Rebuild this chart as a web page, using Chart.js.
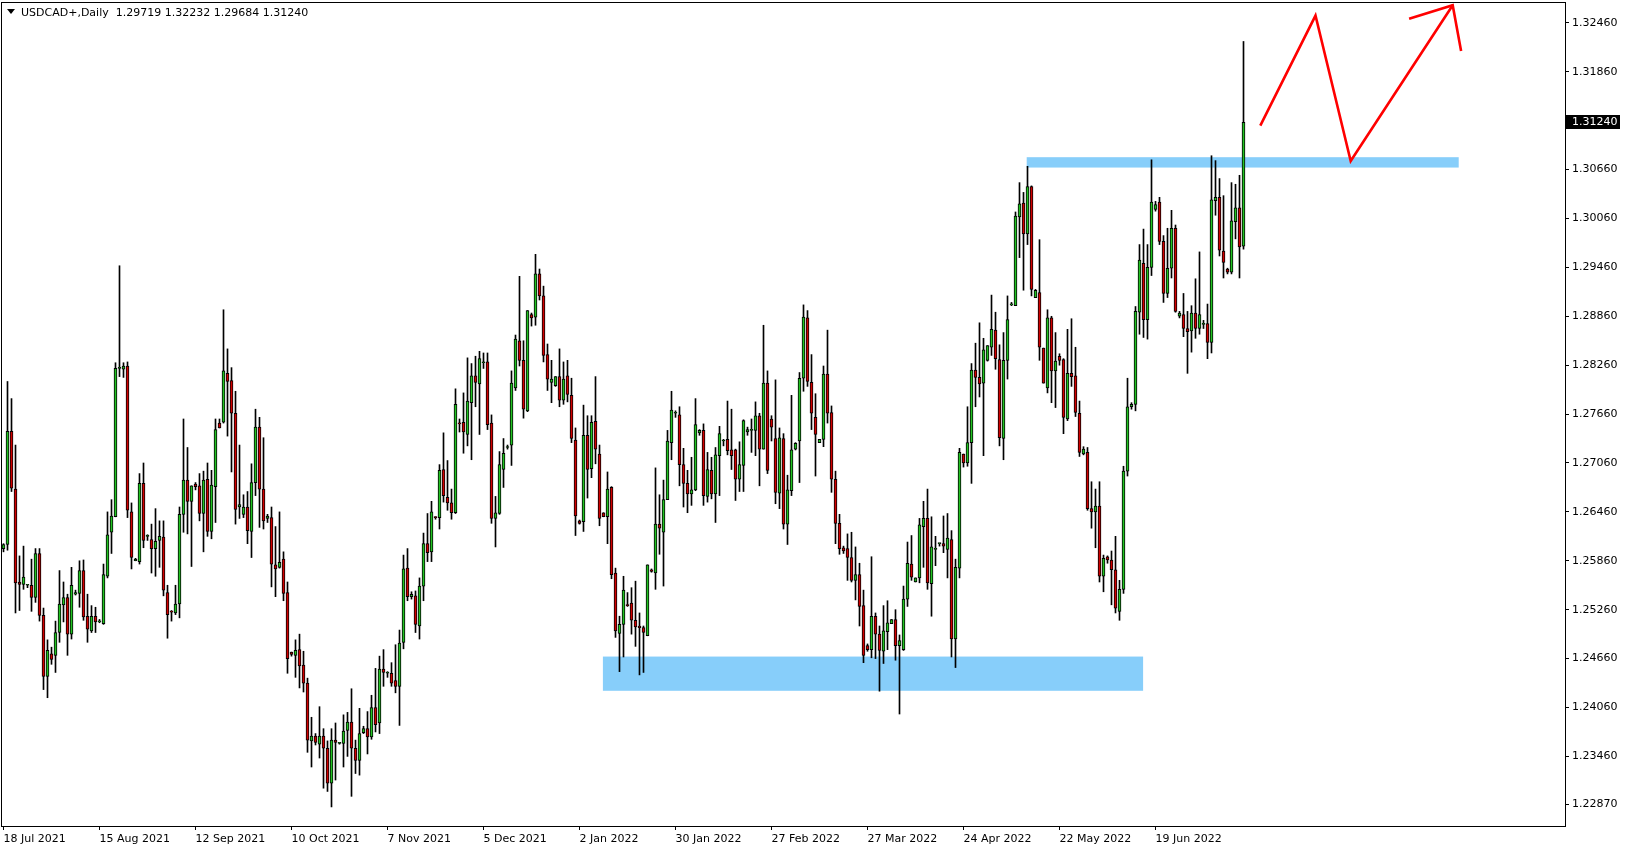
<!DOCTYPE html>
<html>
<head>
<meta charset="utf-8">
<style>
  html, body { margin: 0; padding: 0; background: #fff; }
  canvas { display: block; }
</style>
<script src="https://cdn.jsdelivr.net/npm/chart.js@4.4.1/dist/chart.umd.min.js"></script>
</head>
<body>
<canvas id="chart" width="1629" height="850"></canvas>
<script>
const symbolName = "USDCAD+";
const timeframe = "Daily";

// daily bars, one per index (broker has small sunday bars)
const opens = [
  1.2601,1.2606,1.2745,1.2674,1.2560,1.2557,1.2556,1.2556,1.2541,1.2595,
  1.2519,1.2444,1.2472,1.2470,1.2498,1.2532,1.2541,1.2496,1.2545,1.2546,
  1.2574,1.2518,1.2500,1.2518,1.2511,1.2509,1.2567,1.2621,1.2640,1.2822,
  1.2821,1.2825,1.2646,1.2586,1.2585,1.2681,1.2616,1.2612,1.2601,1.2611,
  1.2615,1.2547,1.2524,1.2522,1.2533,1.2643,1.2685,1.2659,1.2680,1.2678,
  1.2644,1.2686,1.2622,1.2677,1.2755,1.2756,1.2816,1.2807,1.2767,1.2652,
  1.2643,1.2652,1.2622,1.2682,1.2750,1.2674,1.2638,1.2639,1.2581,1.2578,
  1.2588,1.2547,1.2474,1.2470,1.2477,1.2458,1.2436,1.2365,1.2371,1.2361,
  1.2371,1.2356,1.2313,1.2366,1.2362,1.2362,1.2378,1.2388,1.2356,1.2341,
  1.2375,1.2380,1.2370,1.2406,1.2387,1.2453,1.2448,1.2448,1.2439,1.2432,
  1.2486,1.2577,1.2542,1.2543,1.2506,1.2555,1.2607,1.2597,1.2640,1.2639,
  1.2698,1.2664,1.2657,1.2645,1.2755,1.2756,1.2741,1.2780,1.2813,1.2803,
  1.2829,1.2830,1.2755,1.2638,1.2644,1.2698,1.2725,1.2728,1.2798,1.2856,
  1.2832,1.2770,1.2888,1.2885,1.2938,1.2911,1.2839,1.2805,1.2801,1.2812,
  1.2783,1.2813,1.2789,1.2734,1.2635,1.2634,1.2740,1.2699,1.2757,1.2717,
  1.2645,1.2640,1.2676,1.2571,1.2497,1.2508,1.2532,1.2534,1.2513,1.2506,
  1.2504,1.2494,1.2575,1.2571,1.2631,1.2621,1.2661,1.2731,1.2767,1.2765,
  1.2704,1.2681,1.2668,1.2673,1.2743,1.2746,1.2665,1.2697,1.2668,1.2715,
  1.2733,1.2735,1.2722,1.2722,1.2686,1.2703,1.2744,1.2746,1.2746,1.2764,
  1.2723,1.2804,1.2760,1.2736,1.2669,1.2736,1.2631,1.2672,1.2723,1.2733,
  1.2810,1.2884,1.2805,1.2762,1.2731,1.2735,1.2815,1.2768,1.2686,1.2632,
  1.2602,1.2601,1.2590,1.2562,1.2569,1.2531,1.2482,1.2477,1.2518,1.2496,
  1.2475,1.2499,1.2509,1.2514,1.2482,1.2477,1.2539,1.2582,1.2560,1.2565,
  1.2628,1.2638,1.2558,1.2600,1.2607,1.2607,1.2600,1.2612,1.2490,1.2577,
  1.2717,1.2706,1.2731,1.2820,1.2811,1.2804,1.2832,1.2848,1.2869,1.2833,
  1.2736,1.2832,1.2900,1.2899,1.3008,1.3025,1.2987,1.3045,1.2909,1.2915,
  1.2847,1.2798,1.2884,1.2819,1.2837,1.2833,1.2760,1.2816,1.2813,1.2767,
  1.2717,1.2719,1.2650,1.2646,1.2653,1.2567,1.2591,1.2587,1.2575,1.2524,
  1.2551,1.2696,1.2775,1.2778,1.2891,1.2951,1.2882,1.2946,1.3017,1.3026,
  1.2978,1.2914,1.2945,1.2994,1.2886,1.2888,1.2871,1.2868,1.2890,1.2871,
  1.2876,1.2877,1.2854,1.3028,1.3032,1.2966,1.2944,1.2940,1.3002,1.3019,1.29719
];
const highs = [
  1.2607,1.2806,1.2785,1.2728,1.2592,1.2604,1.2557,1.2588,1.2601,1.2601,
  1.2528,1.2489,1.2480,1.2512,1.2574,1.2560,1.2545,1.2578,1.2550,1.2586,
  1.2587,1.2545,1.2531,1.2529,1.2514,1.2582,1.2646,1.2661,1.2829,1.2948,
  1.2829,1.2830,1.2657,1.2589,1.2693,1.2706,1.2618,1.2631,1.2650,1.2635,
  1.2635,1.2556,1.2525,1.2556,1.2652,1.2760,1.2725,1.2678,1.2682,1.2693,
  1.2696,1.2706,1.2697,1.2760,1.2760,1.2894,1.2846,1.2823,1.2794,1.2728,
  1.2667,1.2671,1.2705,1.2772,1.2762,1.2737,1.2643,1.2652,1.2628,1.2646,
  1.2597,1.2560,1.2474,1.2489,1.2496,1.2475,1.2442,1.2394,1.2374,1.2407,
  1.2380,1.2365,1.2380,1.2387,1.2363,1.2397,1.2400,1.2429,1.2366,1.2405,
  1.2383,1.2401,1.2421,1.2454,1.2469,1.2477,1.2450,1.2461,1.2483,1.2501,
  1.2593,1.2601,1.2548,1.2549,1.2565,1.2620,1.2644,1.2659,1.2640,1.2704,
  1.2743,1.2709,1.2674,1.2797,1.2760,1.2792,1.2835,1.2828,1.2837,1.2843,
  1.2841,1.2841,1.2765,1.2665,1.2720,1.2736,1.2728,1.2819,1.2863,1.2935,
  1.2856,1.2893,1.2890,1.2962,1.2944,1.2923,1.2852,1.2832,1.2812,1.2846,
  1.2830,1.2832,1.2810,1.2749,1.2636,1.2777,1.2764,1.2764,1.2812,1.2728,
  1.2645,1.2695,1.2677,1.2577,1.2518,1.2567,1.2547,1.2553,1.2561,1.2522,
  1.2506,1.2581,1.2576,1.2700,1.2667,1.2685,1.2746,1.2794,1.2770,1.2775,
  1.2724,1.2697,1.2713,1.2785,1.2747,1.2754,1.2719,1.2713,1.2725,1.2751,
  1.2735,1.2782,1.2772,1.2723,1.2732,1.2759,1.2750,1.2760,1.2781,1.2767,
  1.2875,1.2819,1.2764,1.2808,1.2749,1.2742,1.2691,1.2789,1.2731,1.2817,
  1.2900,1.2893,1.2839,1.2791,1.2735,1.2825,1.2869,1.2776,1.2696,1.2643,
  1.2604,1.2619,1.2621,1.2603,1.2583,1.2550,1.2484,1.2591,1.2522,1.2506,
  1.2531,1.2537,1.2514,1.2526,1.2495,1.2555,1.2609,1.2617,1.2565,1.2638,
  1.2659,1.2674,1.2640,1.2616,1.2607,1.2641,1.2644,1.2623,1.2588,1.2724,
  1.2717,1.2775,1.2828,1.2853,1.2878,1.2859,1.2850,1.2912,1.2891,1.2851,
  1.2866,1.2911,1.2903,1.3014,1.3050,1.3038,1.3070,1.3046,1.2919,1.2980,
  1.2847,1.2894,1.2886,1.2866,1.2840,1.2834,1.2870,1.2883,1.2848,1.2782,
  1.2726,1.2725,1.2683,1.2674,1.2683,1.2593,1.2592,1.2598,1.2616,1.2562,
  1.2702,1.2810,1.2780,1.2898,1.2974,1.2993,1.2974,1.3078,1.3027,1.3032,
  1.2985,1.2994,1.3016,1.2998,1.2892,1.2914,1.2892,1.2899,1.2932,1.2965,
  1.2881,1.2901,1.3083,1.3077,1.3055,1.3034,1.2945,1.3050,1.3048,1.3059,1.32232
];
const lows = [
  1.2597,1.2599,1.2671,1.2522,1.2525,1.2551,1.2553,1.2524,1.2535,1.2512,
  1.2428,1.2418,1.2459,1.2449,1.2486,1.2511,1.2470,1.2490,1.2544,1.2529,
  1.2513,1.2486,1.2498,1.2498,1.2510,1.2508,1.2565,1.2595,1.2640,1.2812,
  1.2811,1.2639,1.2576,1.2586,1.2582,1.2602,1.2611,1.2571,1.2567,1.2578,
  1.2543,1.2491,1.2512,1.2520,1.2516,1.2621,1.2619,1.2579,1.2673,1.2635,
  1.2597,1.2616,1.2613,1.2633,1.2749,1.2755,1.2739,1.2695,1.2631,1.2638,
  1.2639,1.2607,1.2590,1.2666,1.2627,1.2625,1.2633,1.2554,1.2542,1.2577,
  1.2537,1.2448,1.2469,1.2443,1.2430,1.2425,1.2351,1.2333,1.2360,1.2344,
  1.2307,1.2303,1.2284,1.2317,1.2361,1.2333,1.2346,1.2297,1.2325,1.2323,
  1.2374,1.2349,1.2367,1.2376,1.2374,1.2432,1.2443,1.2432,1.2424,1.2384,
  1.2478,1.2537,1.2539,1.2498,1.2490,1.2537,1.2585,1.2585,1.2637,1.2625,
  1.2658,1.2648,1.2637,1.2644,1.2744,1.2718,1.2727,1.2710,1.2775,1.2741,
  1.2822,1.2747,1.2632,1.2603,1.2643,1.2676,1.2723,1.2703,1.2795,1.2825,
  1.2761,1.2769,1.2874,1.2875,1.2906,1.2830,1.2795,1.2780,1.2800,1.2775,
  1.2778,1.2781,1.2731,1.2617,1.2631,1.2622,1.2663,1.2688,1.2705,1.2629,
  1.2640,1.2607,1.2564,1.2492,1.2450,1.2468,1.2530,1.2496,1.2481,1.2446,
  1.2449,1.2494,1.2572,1.2551,1.2594,1.2555,1.2661,1.2710,1.2762,1.2678,
  1.2652,1.2645,1.2654,1.2672,1.2740,1.2654,1.2658,1.2662,1.2633,1.2666,
  1.2727,1.2716,1.2698,1.2660,1.2671,1.2671,1.2740,1.2719,1.2715,1.2678,
  1.2723,1.2693,1.2733,1.2656,1.2650,1.2625,1.2606,1.2666,1.2722,1.2682,
  1.2794,1.2800,1.2747,1.2690,1.2731,1.2726,1.2755,1.2670,1.2607,1.2594,
  1.2595,1.2562,1.2560,1.2538,1.2506,1.2461,1.2475,1.2467,1.2466,1.2426,
  1.2460,1.2477,1.2509,1.2464,1.2398,1.2476,1.2530,1.2562,1.2560,1.2559,
  1.2578,1.2551,1.2518,1.2580,1.2604,1.2596,1.2565,1.2468,1.2455,1.2565,
  1.2701,1.2702,1.2681,1.2775,1.2787,1.2715,1.2831,1.2838,1.2821,1.2727,
  1.2710,1.2809,1.2899,1.2899,1.2958,1.2918,1.2974,1.2911,1.2909,1.2832,
  1.2804,1.2792,1.2780,1.2774,1.2826,1.2742,1.2758,1.2800,1.2763,1.2714,
  1.2716,1.2648,1.2626,1.2602,1.2560,1.2548,1.2583,1.2532,1.2522,1.2513,
  1.2546,1.2690,1.2772,1.2770,1.2864,1.2860,1.2858,1.2936,1.3015,1.2974,
  1.2903,1.2909,1.2933,1.2891,1.2884,1.2861,1.2816,1.2842,1.2859,1.2864,
  1.2871,1.2834,1.2841,1.3010,1.2960,1.2933,1.2938,1.2938,1.2981,1.2933,1.29684
];
const closes = [
  1.2606,1.2745,1.2675,1.2559,1.2557,1.2566,1.2556,1.2541,1.2595,1.2519,
  1.2444,1.2476,1.2465,1.2498,1.2533,1.2541,1.2496,1.2556,1.2547,1.2574,
  1.2517,1.2502,1.2518,1.2511,1.2512,1.2569,1.2618,1.2641,1.2822,1.2823,
  1.2825,1.2648,1.2590,1.2588,1.2681,1.2611,1.2617,1.2601,1.2610,1.2616,
  1.2550,1.2520,1.2523,1.2533,1.2643,1.2685,1.2659,1.2678,1.2677,1.2644,
  1.2685,1.2622,1.2679,1.2747,1.2749,1.2819,1.2806,1.2767,1.2649,1.2655,
  1.2652,1.2623,1.2682,1.2750,1.2674,1.2635,1.2641,1.2582,1.2576,1.2584,
  1.2546,1.2466,1.2471,1.2476,1.2457,1.2436,1.2366,1.2371,1.2363,1.2371,
  1.2356,1.2313,1.2366,1.2363,1.2362,1.2377,1.2388,1.2356,1.2341,1.2374,
  1.2380,1.2370,1.2406,1.2385,1.2453,1.2449,1.2448,1.2436,1.2432,1.2485,
  1.2576,1.2542,1.2545,1.2508,1.2555,1.2607,1.2596,1.2646,1.2639,1.2697,
  1.2666,1.2657,1.2645,1.2778,1.2754,1.2744,1.2782,1.2813,1.2805,1.2834,
  1.2829,1.2753,1.2638,1.2645,1.2704,1.2718,1.2726,1.2804,1.2858,1.2832,
  1.2772,1.2893,1.2884,1.2938,1.2911,1.2838,1.2809,1.2809,1.2812,1.2783,
  1.2809,1.2790,1.2736,1.2641,1.2632,1.2740,1.2698,1.2756,1.2723,1.2638,
  1.2640,1.2674,1.2569,1.2500,1.2508,1.2550,1.2531,1.2513,1.2505,1.2504,
  1.2498,1.2581,1.2573,1.2631,1.2626,1.2661,1.2733,1.2771,1.2767,1.2704,
  1.2681,1.2668,1.2673,1.2753,1.2746,1.2666,1.2698,1.2668,1.2716,1.2742,
  1.2733,1.2721,1.2715,1.2686,1.2704,1.2758,1.2747,1.2747,1.2764,1.2723,
  1.2804,1.2697,1.2750,1.2670,1.2737,1.2631,1.2673,1.2722,1.2730,1.2810,
  1.2885,1.2806,1.2767,1.2741,1.2735,1.2815,1.2767,1.2686,1.2632,1.2601,
  1.2598,1.2590,1.2562,1.2569,1.2530,1.2470,1.2477,1.2518,1.2496,1.2476,
  1.2500,1.2510,1.2514,1.2482,1.2488,1.2539,1.2583,1.2566,1.2565,1.2630,
  1.2638,1.2559,1.2603,1.2601,1.2607,1.2604,1.2614,1.2490,1.2578,1.2719,
  1.2706,1.2731,1.2820,1.2811,1.2803,1.2845,1.2850,1.2870,1.2834,1.2737,
  1.2832,1.2882,1.2900,1.3009,1.3024,1.2987,1.3045,1.2919,1.2918,1.2848,
  1.2804,1.2884,1.2819,1.2831,1.2832,1.2762,1.2816,1.2812,1.2768,1.2719,
  1.2723,1.2650,1.2646,1.2653,1.2567,1.2589,1.2587,1.2575,1.2528,1.2551,
  1.2696,1.2775,1.2778,1.2892,1.2955,1.2882,1.2946,1.3026,1.3023,1.2978,
  1.2914,1.2945,1.2994,1.2892,1.2890,1.2871,1.2867,1.2890,1.2871,1.2888,
  1.2876,1.2854,1.3029,1.3032,1.2967,1.2952,1.2940,1.3003,1.3019,1.2971,1.3124
];

// time axis labels and the bar they sit on
const dateLabels = ["18 Jul 2021", "15 Aug 2021", "12 Sep 2021", "10 Oct 2021", "7 Nov 2021",
  "5 Dec 2021", "2 Jan 2022", "30 Jan 2022", "27 Feb 2022", "27 Mar 2022",
  "24 Apr 2022", "22 May 2022", "19 Jun 2022"];
const dateBars = [0, 24, 48, 72, 96, 120, 144, 168, 192, 216, 240, 264, 288];

const priceTicks = [1.3246, 1.3186, 1.3066, 1.3006, 1.2946, 1.2886, 1.2826, 1.2766,
  1.2706, 1.2646, 1.2586, 1.2526, 1.2466, 1.2406, 1.2346, 1.2287];

// drawn zones: [fromBar, toBar, lowPrice, highPrice]
const resistanceZone = [255.8, 363.8, 1.30685, 1.30812];
const supportZone = [149.85, 284.9, 1.24265, 1.24685];
// projected path [bar, price]
const arrowPath = [[314.2, 1.3120], [328.0, 1.3255], [336.8, 1.30766], [362.3, 1.32677]];
const arrowHead = [[351.4, 1.32512], [362.3, 1.32677], [364.4, 1.32116]];

const upColor = "#22c322";
const downColor = "#d00000";
const zoneColor = "#87cefa";
const FONT = "DejaVu Sans";

Chart.defaults.font.family = FONT;
Chart.defaults.font.size = 11;
Chart.defaults.color = "#000";

const overlay = {
    id: "overlay",
    beforeDatasetsDraw(chart) {
        const { ctx, scales: { x, y } } = chart;
        ctx.save();
        ctx.fillStyle = zoneColor;
        [resistanceZone, supportZone].forEach((z) => {
            const x1 = x.getPixelForValue(z[0]), x2 = x.getPixelForValue(z[1]);
            const y1 = y.getPixelForValue(z[3]), y2 = y.getPixelForValue(z[2]);
            ctx.fillRect(x1, y1, x2 - x1, y2 - y1);
        });
        ctx.restore();
    },
    afterDatasetsDraw(chart) {
        const { ctx, scales: { x, y } } = chart;
        ctx.save();
        ctx.strokeStyle = "#ff0000";
        ctx.lineWidth = 2.6;
        ctx.lineJoin = "miter";
        [arrowPath, arrowHead].forEach((path) => {
            ctx.beginPath();
            path.forEach((p, i) => {
                const px = x.getPixelForValue(p[0]), py = y.getPixelForValue(p[1]);
                if (i === 0) ctx.moveTo(px, py); else ctx.lineTo(px, py);
            });
            ctx.stroke();
        });
        ctx.restore();
    },
    afterDraw(chart) {
        const { ctx, chartArea: a, scales: { y } } = chart;
        ctx.save();
        // frame
        ctx.strokeStyle = "#000";
        ctx.lineWidth = 1;
        ctx.strokeRect(a.left - 0.5, a.top - 0.5, a.right - a.left + 1, a.bottom - a.top + 1);

        // header
        const last = closes.length - 1;
        ctx.fillStyle = "#000";
        ctx.beginPath();
        ctx.moveTo(7, 9);
        ctx.lineTo(15, 9);
        ctx.lineTo(11, 14);
        ctx.closePath();
        ctx.fill();
        ctx.font = "11px '" + FONT + "'";
        ctx.textBaseline = "middle";
        const header = symbolName + "," + timeframe + "  " +
            [opens[last], highs[last], lows[last], closes[last]].map((v) => v.toFixed(5)).join(" ");
        ctx.fillText(header, 21, 13);

        // current price box
        const py = Math.round(y.getPixelForValue(closes[last]));
        ctx.fillStyle = "#000";
        ctx.fillRect(a.right + 1, py - 7, 54, 14);
        ctx.fillStyle = "#fff";
        ctx.fillText(closes[last].toFixed(5), a.right + 7, py + 0.5);
        ctx.restore();
    }
};

const ctx = document.getElementById("chart").getContext("2d");
new Chart(ctx, {
    type: "bar",
    data: {
        datasets: [
            {
                label: "body",
                data: opens.map((o, i) => ({ x: i, y: [o, closes[i]] })),
                backgroundColor: opens.map((o, i) => (closes[i] >= o ? upColor : downColor)),
                borderColor: "#000",
                borderWidth: 1,
                borderSkipped: false,
                barThickness: 3,
                minBarLength: 1,
                grouped: false,
            },
            {
                label: "wick",
                data: highs.map((h, i) => ({ x: i, y: [lows[i], h] })),
                backgroundColor: "#000",
                borderWidth: 0,
                barThickness: 1,
                grouped: false,
            },
        ],
    },
    options: {
        responsive: false,
        animation: false,
        devicePixelRatio: 1,
        layout: { padding: { left: 2, top: 3, right: 0, bottom: 0 } },
        plugins: {
            legend: { display: false },
            tooltip: { enabled: false },
        },
        scales: {
            x: {
                type: "linear",
                offset: false,
                min: -0.375,
                max: 390.375,
                grid: { display: true, offset: false, drawOnChartArea: false, drawTicks: true, tickLength: 4, color: "#000" },
                border: { display: false },
                afterBuildTicks: (s) => {
                    s.ticks = dateBars.map((v) => ({ value: v }));
                },
                ticks: {
                    autoSkip: false,
                    maxRotation: 0,
                    align: "start",
                    padding: 3,
                    callback: (v) => dateLabels[dateBars.indexOf(v)],
                },
                afterFit: (s) => {
                    s.height = 24;
                    s.paddingLeft = 0;
                    s.paddingRight = 0;
                },
            },
            y: {
                type: "linear",
                position: "right",
                beginAtZero: false,
                min: 1.22606,
                max: 1.32704,
                grid: { display: true, drawOnChartArea: false, drawTicks: true, tickLength: 4, color: "#000" },
                border: { display: false },
                afterBuildTicks: (s) => {
                    s.ticks = priceTicks.map((v) => ({ value: v }));
                },
                ticks: {
                    autoSkip: false,
                    padding: 3,
                    callback: (v) => v.toFixed(5),
                },
                afterFit: (s) => {
                    s.width = 64;
                    s.paddingTop = 0;
                    s.paddingBottom = 0;
                },
            },
        },
    },
    plugins: [overlay],
});
</script>
</body>
</html>
